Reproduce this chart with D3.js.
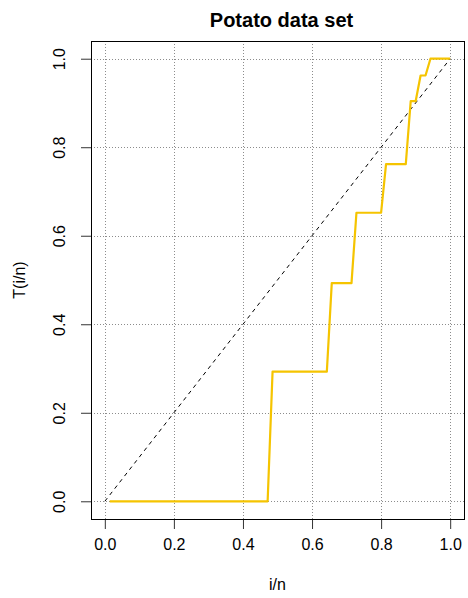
<!DOCTYPE html>
<html>
<head>
<meta charset="utf-8">
<script src="https://cdn.jsdelivr.net/npm/d3@7"></script>
<style>
  body { margin: 0; background: #fff; }
  svg { display: block; font-family: "Liberation Sans", Arial, sans-serif; }
</style>
</head>
<body>
<svg id="chart"></svg>
<script>
// TTT plot values, T(i/n) for i = 1..n
const tValues = [
  0, 0, 0, 0, 0, 0, 0, 0, 0, 0,
  0, 0, 0, 0, 0, 0, 0, 0, 0, 0,
  0, 0, 0, 0, 0, 0, 0, 0, 0, 0,
  0, 0, 0, 0.293, 0.293, 0.293, 0.293, 0.293, 0.293, 0.293,
  0.293, 0.293, 0.293, 0.293, 0.293, 0.493, 0.493, 0.493, 0.493, 0.493,
  0.652, 0.652, 0.652, 0.652, 0.652, 0.652, 0.762, 0.762, 0.762, 0.762,
  0.762, 0.904, 0.904, 0.962, 0.962, 1.0, 1.0, 1.0, 1.0, 1.0
];
const xTicks = [0, 0.2, 0.4, 0.6, 0.8, 1.0];
const yTicks = [0, 0.2, 0.4, 0.6, 0.8, 1.0];
const diagonal = [[0, 0], [1, 1]];

const width = 468, height = 598;
const margin = { top: 41, right: 4, bottom: 79, left: 91 };

const svg = d3.select("#chart")
  .attr("width", width)
  .attr("height", height);

// R-style 4% axis extension
const x = d3.scaleLinear()
  .domain([-0.04, 1.04])
  .range([margin.left, width - margin.right]);
const y = d3.scaleLinear()
  .domain([-0.04, 1.04])
  .range([height - margin.bottom, margin.top]);

const n = tValues.length;
const points = tValues.map((t, i) => [(i + 1) / n, t]);

// grid
const grid = svg.append("g")
  .attr("stroke", "#8c8c8c")
  .attr("stroke-width", 1)
  .attr("stroke-dasharray", "1,2");
grid.selectAll("line.v").data(xTicks).enter().append("line")
  .attr("x1", d => Math.round(x(d)) + 0.5).attr("x2", d => Math.round(x(d)) + 0.5)
  .attr("y1", margin.top).attr("y2", height - margin.bottom);
grid.selectAll("line.h").data(yTicks).enter().append("line")
  .attr("x1", margin.left).attr("x2", width - margin.right)
  .attr("y1", d => Math.round(y(d)) + 0.5).attr("y2", d => Math.round(y(d)) + 0.5);

// diagonal reference
svg.append("path")
  .datum(diagonal)
  .attr("fill", "none")
  .attr("stroke", "#000")
  .attr("stroke-width", 1)
  .attr("stroke-dasharray", "4,4")
  .attr("d", d3.line().x(d => x(d[0])).y(d => y(d[1])));

// TTT curve
svg.append("path")
  .datum(points)
  .attr("fill", "none")
  .attr("stroke", "#f5c400")
  .attr("stroke-width", 2.2)
  .attr("stroke-linejoin", "round")
  .attr("d", d3.line().x(d => x(d[0])).y(d => y(d[1])));

// axes
const xAxis = svg.append("g")
  .attr("transform", `translate(0,${height - margin.bottom})`)
  .call(d3.axisBottom(x).tickValues(xTicks).tickFormat(d3.format(".1f")).tickSize(10).tickPadding(6));
const yAxis = svg.append("g")
  .attr("transform", `translate(${margin.left},0)`)
  .call(d3.axisLeft(y).tickValues(yTicks).tickFormat(d3.format(".1f")).tickSize(10));

[xAxis, yAxis].forEach(a => {
  a.select(".domain").remove();
  a.selectAll(".tick line").attr("stroke", "#333");
  a.selectAll("text").attr("font-size", 16).attr("fill", "#000")
    .attr("font-family", "Liberation Sans, Arial, sans-serif");
});
xAxis.selectAll("text").attr("dy", "0.95em");

yAxis.selectAll(".tick text")
  .attr("x", null).attr("dy", null)
  .attr("text-anchor", "middle")
  .attr("transform", "translate(-26,0) rotate(-90)");

// plot box
svg.append("rect")
  .attr("x", margin.left + 0.5).attr("y", margin.top + 0.5)
  .attr("width", width - margin.left - margin.right)
  .attr("height", height - margin.top - margin.bottom)
  .attr("fill", "none")
  .attr("stroke", "#000")
  .attr("stroke-width", 1);

// title and labels
svg.append("text")
  .attr("x", (margin.left + width - margin.right) / 2 + 4)
  .attr("y", 27)
  .attr("text-anchor", "middle")
  .style("font-size", "20px")
  .style("font-weight", "bold")
  .text("Potato data set");

svg.append("text")
  .attr("x", (margin.left + width - margin.right) / 2)
  .attr("y", 590)
  .attr("text-anchor", "middle")
  .style("font-size", "16px")
  .text("i/n");

svg.append("text")
  .attr("transform", `translate(25,${(margin.top + height - margin.bottom) / 2}) rotate(-90)`)
  .attr("text-anchor", "middle")
  .style("font-size", "16px")
  .text("T(i/n)");
</script>
</body>
</html>
